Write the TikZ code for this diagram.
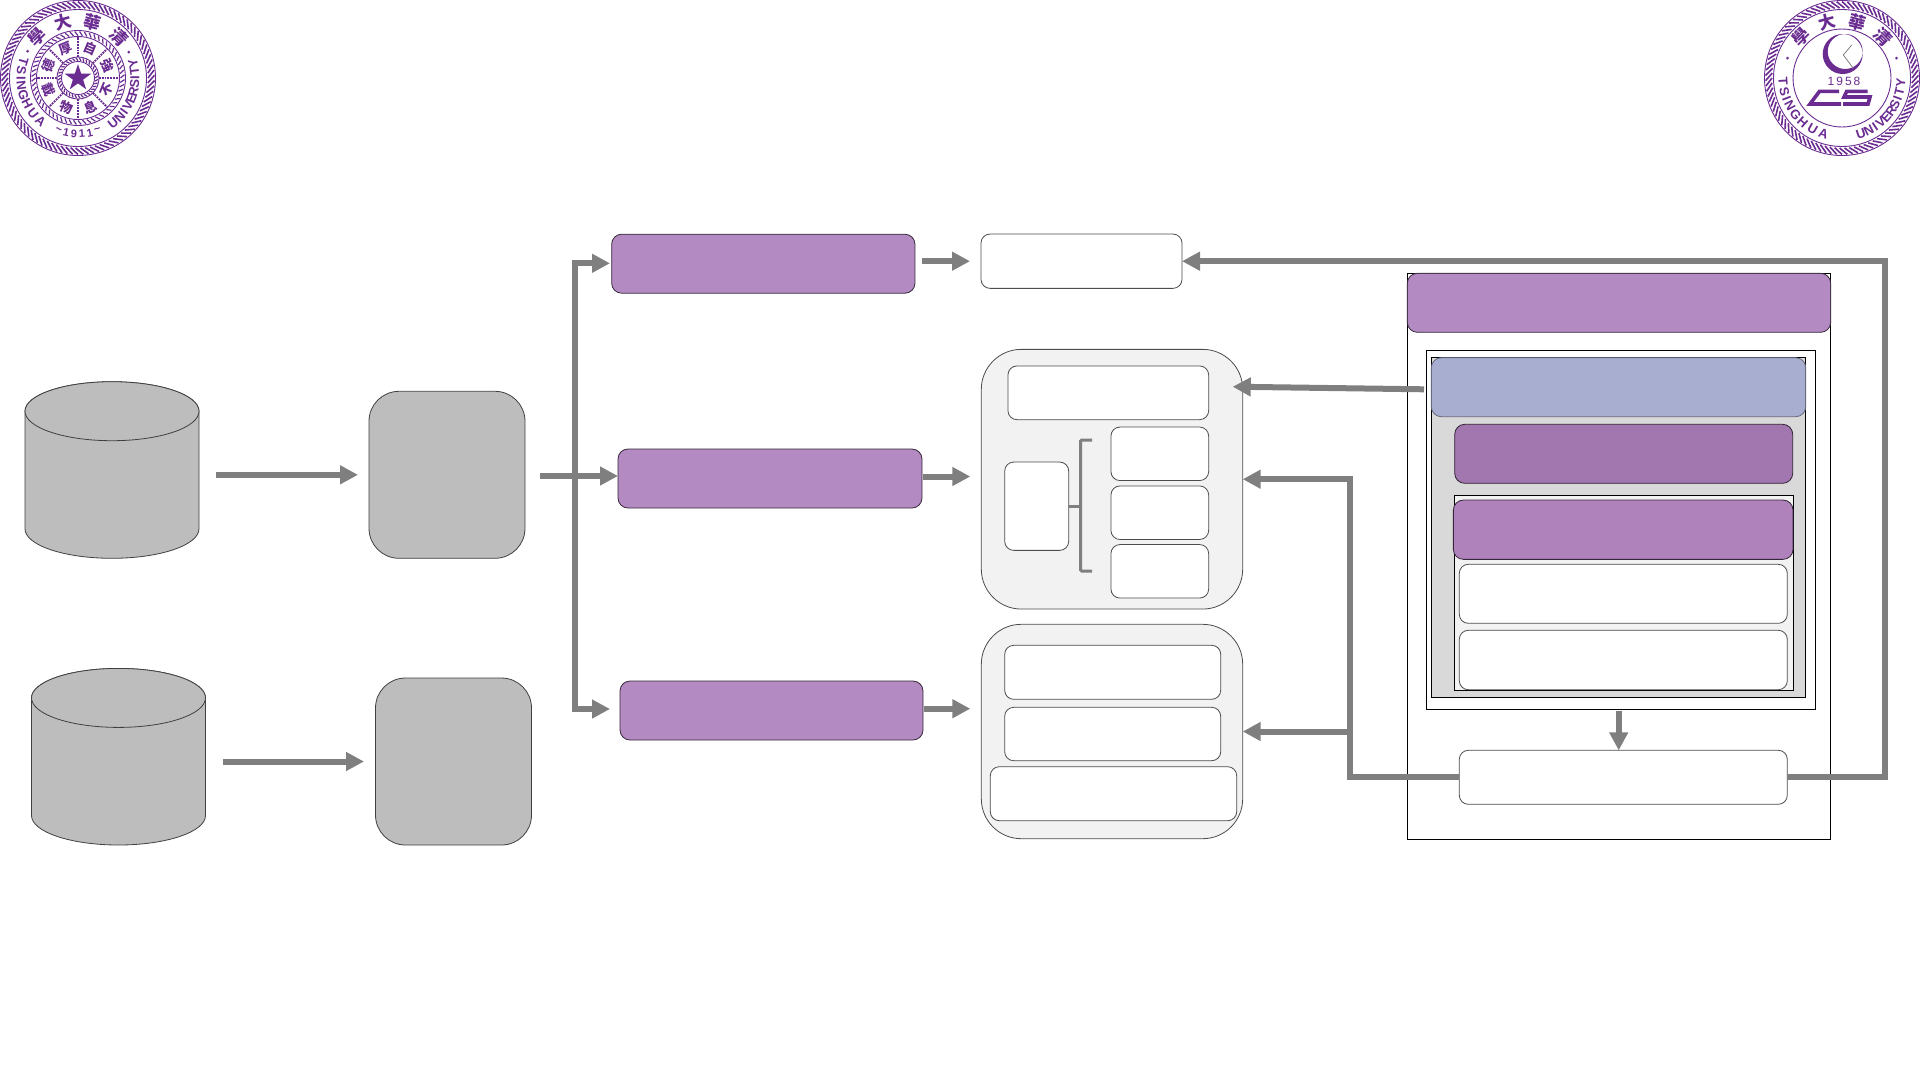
\documentclass[tikz,border=0pt]{standalone}
\usepackage{fontspec}
\setmainfont{Liberation Sans}
\newfontfamily\cjk{Noto Sans CJK TC}
\usetikzlibrary{arrows.meta, positioning, shapes.geometric, calc}
\definecolor{cflow}{HTML}{7f7f7f}
\definecolor{cgrey}{HTML}{bdbdbd}
\definecolor{cpale}{HTML}{f2f2f2}
\definecolor{cframe}{HTML}{d9d9d9}
\definecolor{cmauve}{HTML}{b48ac2}
\definecolor{cmauved}{HTML}{a276af}
\definecolor{cmauvem}{HTML}{af82bc}
\definecolor{cblue}{HTML}{a8aed0}
\definecolor{cseal}{HTML}{6a2c91}

\begin{document}
\begin{tikzpicture}[
  x=1pt, y=-1pt,
  every node/.style={inner sep=0pt, outer sep=0pt},
  flow/.style={draw=cflow, line width=6pt, -{Triangle[length=18pt, width=18pt]}},
  card/.style={draw=black!70, line width=0.8pt, fill=white, rounded corners=9pt},
  hub/.style={card, draw=black!75, fill=cgrey, rounded corners=30pt, minimum width=156pt, minimum height=167pt},
  pocket/.style={card, fill=cpale, rounded corners=40pt, minimum width=261.4pt},
  mauve/.style={card, draw=black!70!cmauve, fill=cmauve, rounded corners=10pt, minimum height=59pt},
  store/.style={minimum width=174pt, minimum height=176.6pt},
  storeface/.style={draw=black!75, line width=0.8pt, fill=cgrey},
  frame/.style={draw=black, line width=1pt},
  sealtx/.style={text=cseal, font=\fontsize{13}{13}\selectfont\bfseries},
  sealhan/.style={text=cseal, font=\cjk\fontsize{17}{17}\selectfont\bfseries},
  ]
\useasboundingbox (0,0) rectangle (1920,1080);

\node[store] (cyl1) at (112,470) {};
\node[store] (cyl2) at (118.5,756.7) {};
\foreach \n in {cyl1,cyl2} {
  \draw[storeface] ($(\n.north west)+(0,29.5)$) arc[x radius=87, y radius=29.5, start angle=180, end angle=360]
    -- ($(\n.south east)+(0,-29.5)$) arc[x radius=87, y radius=29.5, start angle=0, end angle=180] -- cycle;
  \draw[storeface] ($(\n.north)+(0,29.5)$) ellipse[x radius=87, y radius=29.5];
}
\node[hub] (hub1) at (447,474.8) {};
\node[hub] (hub2) at (453.5,761.5) {};

\node[mauve, minimum width=303.3pt] (p1) at (763.3,263.7) {};
\node[mauve, minimum width=304pt] (p2) at (770,478.5) {};
\node[mauve, minimum width=303pt] (p3) at (771.5,710.5) {};

\node[card, minimum width=201pt, minimum height=54.3pt] (w1) at (1081.5,261.2) {};

\node[pocket, minimum height=259.7pt] (c1) at (1112,479.2) {};
\node[card, minimum width=200.7pt, minimum height=53.7pt] (c1top) at (1108.3,392.8) {};
\node[card, minimum width=97.7pt, minimum height=53.5pt] (r1) at (1159.8,453.8) {};
\node[card, minimum width=97.7pt, minimum height=53.5pt, below=5.4pt of r1] (r2) {};
\node[card, minimum width=97.7pt, minimum height=53.5pt, below=5.1pt of r2] (r3) {};
\node[card, minimum width=64pt, minimum height=88.3pt] (c1left) at (1036.7,506.2) {};

\node[pocket, minimum height=214.4pt] (c2) at (1112,731.5) {};
\node[card, minimum width=216pt, minimum height=54pt] (b1) at (1112.7,672.3) {};
\node[card, minimum width=216pt, minimum height=53.4pt] (b2) at (1112.7,734) {};
\node[card, minimum width=246.4pt, minimum height=54pt] (b3) at (1113.5,793.7) {};

\node[frame, minimum width=423.4pt, minimum height=566pt] (panel) at (1619,556.3) {};
\node[mauve, minimum width=423.4pt] (head) at (1619,302.8) {};
\node[frame, fill=white, minimum width=389.4pt, minimum height=359pt] (outer) at (1621,529.8) {};
\node[frame, fill=cframe, minimum width=374.4pt, minimum height=339.6pt] (inner) at (1618.5,527.5) {};
\node[mauve, draw=black!40!cblue, fill=cblue, minimum width=374.4pt] (blue) at (1618.5,387.2) {};
\node[mauve, draw=black!70!cmauved, fill=cmauved, minimum width=338pt] (dark) at (1623.7,453.8) {};
\node[frame, fill=cpale, minimum width=339.4pt, minimum height=195pt] (stack) at (1624,592.8) {};
\node[mauve, draw=black!70!cmauvem, fill=cmauvem, minimum width=339.7pt, minimum height=59.3pt] (top) at (1623.2,529.7) {};
\node[card, minimum width=328pt, minimum height=59pt] (s1) at (1623.3,593.8) {};
\node[card, minimum width=328pt, minimum height=59.4pt] (s2) at (1623.3,660) {};
\node[card, minimum width=328pt, minimum height=54pt] (rep) at (1623.3,777.3) {};

\draw[flow, shorten <=16.5pt, shorten >=11pt] (cyl1.east |- hub1.west) -- (hub1.west);
\draw[flow, shorten <=17pt, shorten >=11.5pt] (cyl2.east |- hub2.west) -- (hub2.west);

\coordinate (busstart) at (539.6,476);
\coordinate (bus) at (574.7,476);
\coordinate (p2in) at (618,476);
\coordinate (p1in) at (610,263.3);
\coordinate (p3in) at (610,709);
\draw[flow] (busstart) -- (p2in);
\draw[flow] (bus) |- (p1in);
\draw[flow] (bus) |- (p3in);

\coordinate (c1in) at (981.3,476.5);
\coordinate (c2in) at (981.3,708.7);
\draw[flow, shorten <=7pt, shorten >=11pt] (p1.east |- w1.west) -- (w1.west);
\draw[flow, shorten <=1pt, shorten >=11pt] (p2.east |- c1in) -- (c1in);
\draw[flow, shorten <=1pt, shorten >=11pt] (p3.east |- c2in) -- (c2in);

\coordinate (blueout) at (1424,389.3);
\coordinate (c1tip) at (1232.7,386.7);
\draw[flow] (blueout) -- (c1tip);

\coordinate (downarr) at (1618.7,709.3);
\draw[flow, shorten <=1.7pt] (downarr) -- (downarr |- rep.north);

\coordinate (split) at (1350,777.3);
\coordinate (corner) at (1884.7,777.3);
\draw[flow] (rep.west) -- (split) |- (c1.east);
\draw[flow] (split |- c2.east) -- (c2.east);
\draw[flow] (rep.east) -- (corner) |- (w1.east);

\coordinate (brtop) at (1092,440);
\coordinate (brbot) at (1092,571);
\draw[draw=cflow, line width=3pt, rounded corners=1pt] (brtop) -- ++(-11.3,0) -- ($(brbot)+(-11.3,0)$) -- (brbot);
\draw[draw=cflow, line width=3pt] (c1left.east) -- ++(11.7,0);

% seals
\newcommand{\sealrope}{%
  \draw[cseal, line width=0.9pt] (0,0) circle (77.5) (0,0) circle (68.5);
  \foreach \a in {0,4,...,356}
    \draw[cseal, line width=1.6pt] (\a:70) -- (\a+6:76.5);
  \foreach \ch [count=\i] in {學,大,華,清} {
    \pgfmathsetmacro\ang{135-(\i-1)*30}
    \node[sealhan, rotate=\ang-90] (han\i) at (\ang:57.5) {\ch};
  }
}
\begin{scope}[shift={(78,78)}, y=1pt]
  \sealrope
  \foreach \ch/\ang [count=\i] in {T/163,S/172.5,I/180,N/187.5,G/197,H/207,U/218,A/229} {
    \node[sealtx, rotate=\ang+90] (ltsing\i) at (\ang:57) {\ch};
  }
  \foreach \ch/\ang [count=\i] in {U/308,N/317,I/324,V/331,E/339,R/346,S/354,I/360,T/367,Y/375} {
    \node[sealtx, rotate=\ang+90] (luniv\i) at (\ang:57) {\ch};
  }
  \foreach \ch [count=\i] in {\textasciitilde,1,9,1,1,\textasciitilde} {
    \pgfmathsetmacro\ang{249.5+(\i-1)*8.2}
    \node[sealtx, font=\fontsize{11}{11}\selectfont\bfseries, rotate=\ang+90] (lyear\i) at (\ang:56) {\ch};
  }
  \fill[cseal] (152:57) circle (1.5) (27:57) circle (1.5);
  \draw[cseal, line width=0.9pt] (0,0) circle (47.5) (0,0) circle (41.5) (0,0) circle (21) (0,0) circle (16.5);
  \foreach \a in {0,6,...,354}
    \draw[cseal, line width=1.2pt] (\a:42.5) -- (\a+4:46.5);
  \foreach \a in {0,10,...,350}
    \draw[cseal, line width=1.2pt] (\a:17.3) -- (\a+6:20.2);
  \foreach \a in {0,45,...,315}
    \draw[cseal, line width=1.8pt, densely dotted] (\a:21) -- (\a:41.5);
  \foreach \ch/\a/\r [count=\i] in {自/67.5/-90,強/22.5/-90,不/-22.5/90,息/-67.5/90,物/-112.5/90,載/-157.5/90,德/157.5/-90,厚/112.5/-90} {
    \node[sealhan, font=\cjk\fontsize{13}{13}\selectfont\bfseries, rotate=\a+\r] (lring\i) at (\a:31.5) {\ch};
  }
  \node[star, star points=5, star point ratio=2.618, fill=cseal, minimum size=28pt] (lstar) at (0,0) {};
\end{scope}

\begin{scope}[shift={(1842,78)}, y=1pt]
  \sealrope
  \foreach \ch/\ang [count=\i] in {T/183.5,S/193,I/200.5,N/208,G/218,H/228,U/240,A/251.6} {
    \node[sealtx, rotate=\ang+90] (rtsing\i) at (\ang:59) {\ch};
  }
  \foreach \ch/\ang [count=\i] in {U/288.7,N/297,I/304,V/311,E/318.5,R/326,S/333.5,I/340,T/347,Y/355} {
    \node[sealtx, rotate=\ang+90] (runiv\i) at (\ang:59) {\ch};
  }
  \fill[cseal] (160:58) circle (1.5) (20:58) circle (1.5);
  \draw[cseal, line width=0.9pt] (0,0) circle (49);
\end{scope}
\fill[cseal, even odd rule] (1842.7,54) circle (20) (1845.2,51.5) circle (17.5);
\draw[cflow, line width=0.8pt] (1851.7,45) -- (1843.3,55) -- (1853.3,68.3);
\node[text=cseal, font=\fontsize{12}{12}\selectfont, text width=30pt, align=center] (ryear) at (1842.7,81) {1\,9\,5\,8};
\draw[cseal, line width=3.6pt] (1839,91.3) -- (1819.5,91.3) -- (1810,104) -- (1841,104);
\draw[cseal, line width=3.6pt] (1867.7,91.3) -- (1846.7,91.3) -- (1844,97) -- (1870,97) -- (1868,104) -- (1843,104);
\end{tikzpicture}
\end{document}
